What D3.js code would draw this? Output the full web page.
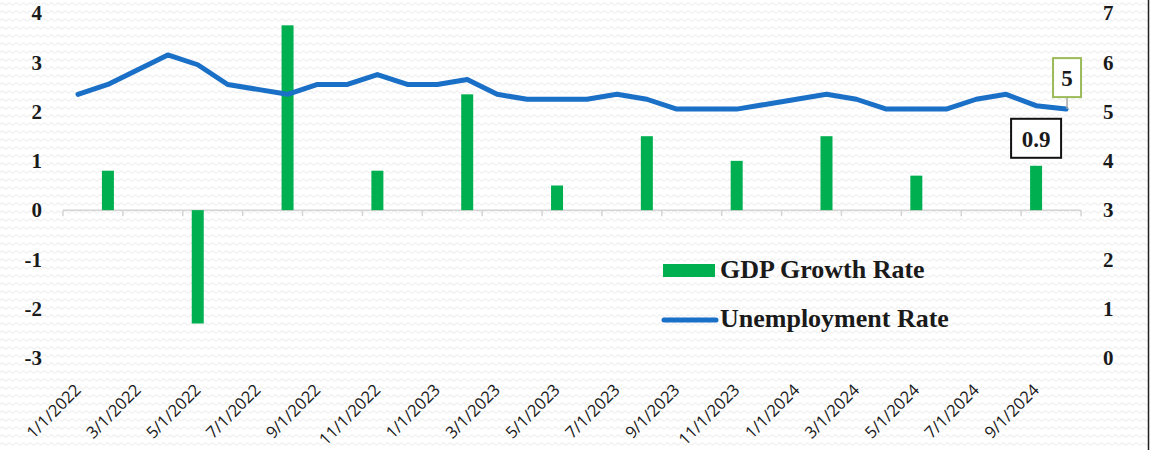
<!DOCTYPE html>
<html>
<head>
<meta charset="utf-8">
<script src="https://cdn.jsdelivr.net/npm/d3@7"></script>
<style>
	html, body { margin: 0; padding: 0; background: #fff; }
	svg { display: block; }
</style>
</head>
<body>
<div id="chart"></div>
<script>

var months = ["1/1/2022", "2/1/2022", "3/1/2022", "4/1/2022", "5/1/2022", "6/1/2022",
	"7/1/2022", "8/1/2022", "9/1/2022", "10/1/2022", "11/1/2022", "12/1/2022",
	"1/1/2023", "2/1/2023", "3/1/2023", "4/1/2023", "5/1/2023", "6/1/2023",
	"7/1/2023", "8/1/2023", "9/1/2023", "10/1/2023", "11/1/2023", "12/1/2023",
	"1/1/2024", "2/1/2024", "3/1/2024", "4/1/2024", "5/1/2024", "6/1/2024",
	"7/1/2024", "8/1/2024", "9/1/2024", "10/1/2024"];

var unemployment = [5.35, 5.55, 5.85, 6.15, 5.95, 5.55, 5.45, 5.35, 5.55, 5.55, 5.75, 5.55,
	5.55, 5.65, 5.35, 5.25, 5.25, 5.25, 5.35, 5.25, 5.05, 5.05, 5.05, 5.15,
	5.25, 5.35, 5.25, 5.05, 5.05, 5.05, 5.25, 5.35, 5.12, 5.05];

var gdpMonths = ["2/1/2022", "5/1/2022", "8/1/2022", "11/1/2022", "2/1/2023", "5/1/2023",
	"8/1/2023", "11/1/2023", "2/1/2024", "5/1/2024", "9/1/2024"];
var gdpValues = [0.8, -2.3, 3.75, 0.8, 2.35, 0.5, 1.5, 1.0, 1.5, 0.7, 0.9];

var leftTicks = [-3, -2, -1, 0, 1, 2, 3, 4];
var rightTicks = [0, 1, 2, 3, 4, 5, 6, 7];
var xLabels = months.filter((d, i) => i % 2 == 0);

var seriesNames = ["GDP Growth Rate", "Unemployment Rate"];

var green = "#00b050";
var blue = "#1a6fc6";
var serif = "'Liberation Serif', 'Times New Roman', serif";

var width = 1150, height = 450;

var svg = d3.select("#chart")
	.append("svg")
		.attr("width", width)
		.attr("height", height);

// wavy background texture
var pattern = svg.append("defs")
	.append("pattern")
		.attr("id", "waves")
		.attr("patternUnits", "userSpaceOnUse")
		.attr("width", 7)
		.attr("height", 8);

pattern.append("path")
	.attr("d", "M0,5 Q1.75,1.5 3.5,3.5 T7,5")
	.attr("fill", "none")
	.attr("stroke", "#f0f0f0")
	.attr("stroke-width", 1.2);

svg.append("rect")
	.attr("width", width)
	.attr("height", height)
	.attr("fill", "#fff");

svg.append("rect")
	.attr("width", width)
	.attr("height", height)
	.attr("fill", "url(#waves)");

svg.append("line")
	.attr("x1", 1148.5).attr("x2", 1148.5)
	.attr("y1", 0).attr("y2", height)
	.attr("stroke", "#222")
	.attr("stroke-width", 1.5);

var x = d3.scaleBand()
	.domain(months)
	.range([63, 1081])
	.padding(0);

var yLeft = d3.scaleLinear()
	.domain([-3, 4])
	.range([358, 13]);

var yRight = d3.scaleLinear()
	.domain([0, 7])
	.range([358, 13]);

// category axis on the zero line, ticks every two months
var tickPositions = months.filter((d, i) => i % 2 == 0).map(d => x(d));
tickPositions.push(x.range()[1]);

svg.append("line")
	.attr("x1", x.range()[0]).attr("x2", x.range()[1])
	.attr("y1", yLeft(0)).attr("y2", yLeft(0))
	.attr("stroke", "#d4d4d4")
	.attr("stroke-width", 1.5);

svg.append("g")
	.selectAll("line")
	.data(tickPositions)
	.enter()
		.append("line")
		.attr("x1", d => d).attr("x2", d => d)
		.attr("y1", yLeft(0)).attr("y2", yLeft(0) + 6)
		.attr("stroke", "#d4d4d4")
		.attr("stroke-width", 1.5);

svg.append("g")
	.selectAll("text")
	.data(xLabels)
	.enter()
		.append("text")
		.attr("transform", d => "translate(" + (x(d) + x.bandwidth() / 2 + 4) + ",391) rotate(-45)")
		.attr("text-anchor", "end")
		.attr("font-family", "'Open Sans', sans-serif")
		.attr("font-size", 16.5)
		.attr("fill", "#1a1a1a")
		.text(d => d);

svg.append("g")
	.selectAll("text")
	.data(leftTicks)
	.enter()
		.append("text")
		.attr("x", 42)
		.attr("y", d => yLeft(d))
		.attr("dy", "0.35em")
		.attr("text-anchor", "end")
		.attr("font-family", serif)
		.attr("font-weight", "bold")
		.attr("font-size", 21)
		.attr("fill", "#1a1a1a")
		.text(d => d);

svg.append("g")
	.selectAll("text")
	.data(rightTicks)
	.enter()
		.append("text")
		.attr("x", 1103)
		.attr("y", d => yRight(d))
		.attr("dy", "0.35em")
		.attr("text-anchor", "start")
		.attr("font-family", serif)
		.attr("font-weight", "bold")
		.attr("font-size", 21)
		.attr("fill", "#1a1a1a")
		.text(d => d);

// GDP bars
var barWidth = 12;
svg.append("g")
	.selectAll("rect")
	.data(gdpValues)
	.enter()
		.append("rect")
		.attr("x", (d, i) => x(gdpMonths[i]) + x.bandwidth() / 2 - barWidth / 2)
		.attr("y", d => Math.min(yLeft(d), yLeft(0)))
		.attr("width", barWidth)
		.attr("height", d => Math.abs(yLeft(d) - yLeft(0)))
		.attr("fill", green);

// unemployment line
var line = d3.line()
	.x((d, i) => x(months[i]) + x.bandwidth() / 2)
	.y(d => yRight(d));

svg.append("path")
	.datum(unemployment)
	.attr("d", line)
	.attr("fill", "none")
	.attr("stroke", blue)
	.attr("stroke-width", 5)
	.attr("stroke-linejoin", "round")
	.attr("stroke-linecap", "round");

// callouts on the last values
var lastU = unemployment.length - 1;
var ux = x(months[lastU]) + x.bandwidth() / 2;
var uy = yRight(unemployment[lastU]);

svg.append("line")
	.attr("x1", ux + 1).attr("x2", ux + 1)
	.attr("y1", uy - 12).attr("y2", uy)
	.attr("stroke", "#a6a6a6")
	.attr("stroke-width", 1.5);

svg.append("rect")
	.attr("x", ux - 13).attr("y", uy - 51)
	.attr("width", 28).attr("height", 39)
	.attr("fill", "#fff")
	.attr("stroke", "#9bbb59")
	.attr("stroke-width", 2);

svg.append("text")
	.attr("x", ux + 1).attr("y", uy - 31)
	.attr("dy", "0.35em")
	.attr("text-anchor", "middle")
	.attr("font-family", serif)
	.attr("font-weight", "bold")
	.attr("font-size", 23)
	.attr("fill", "#1a1a1a")
	.text(d3.format(".0f")(unemployment[lastU]));

var lastG = gdpValues.length - 1;
var gx = x(gdpMonths[lastG]) + x.bandwidth() / 2;
var gy = yLeft(gdpValues[lastG]);

svg.append("rect")
	.attr("x", gx - 25).attr("y", gy - 47)
	.attr("width", 50).attr("height", 39)
	.attr("fill", "#fff")
	.attr("stroke", "#111")
	.attr("stroke-width", 2);

svg.append("text")
	.attr("x", gx).attr("y", gy - 27)
	.attr("dy", "0.35em")
	.attr("text-anchor", "middle")
	.attr("font-family", serif)
	.attr("font-weight", "bold")
	.attr("font-size", 23)
	.attr("fill", "#1a1a1a")
	.text(gdpValues[lastG]);

// legend
var legend = svg.append("g");

legend.append("rect")
	.attr("x", 663).attr("y", 264)
	.attr("width", 52).attr("height", 13)
	.attr("fill", green);

legend.append("line")
	.attr("x1", 664).attr("x2", 716)
	.attr("y1", 320).attr("y2", 320)
	.attr("stroke", blue)
	.attr("stroke-width", 5)
	.attr("stroke-linecap", "round");

legend.selectAll("text")
	.data(seriesNames)
	.enter()
		.append("text")
		.attr("x", 720)
		.attr("y", (d, i) => 278 + i * 49)
		.attr("font-family", serif)
		.attr("font-weight", "bold")
		.attr("font-size", 26)
		.attr("fill", "#1a1a1a")
		.text(d => d);

</script>
</body>
</html>
